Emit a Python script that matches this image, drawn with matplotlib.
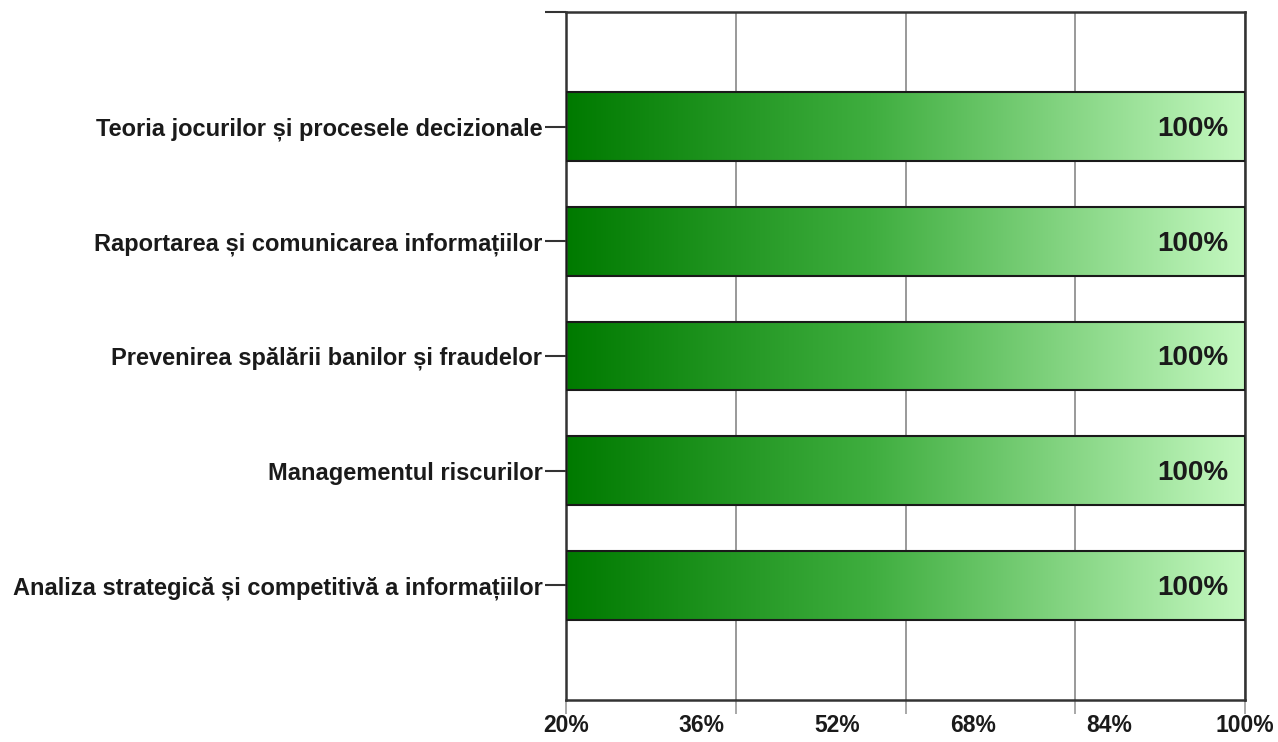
import matplotlib.pyplot as plt
import numpy as np
from matplotlib.colors import LinearSegmentedColormap

categories = [
    "Analiza strategică și competitivă a informațiilor",
    "Managementul riscurilor",
    "Prevenirea spălării banilor și fraudelor",
    "Raportarea și comunicarea informațiilor",
    "Teoria jocurilor și procesele decizionale",
]
values = [100, 100, 100, 100, 100]
tick_labels = [20, 36, 52, 68, 84, 100]
grid_ticks = [20, 40, 60, 80, 100]

plt.rcParams['font.family'] = ['Liberation Sans', 'DejaVu Sans']
plt.rcParams['font.weight'] = 'bold'

fig = plt.figure(figsize=(12.78, 7.42), dpi=100)
ax = fig.add_axes([566 / 1278, 42 / 742, 679 / 1278, 688 / 742])

cmap = LinearSegmentedColormap.from_list(
    "g", [(0.0, "#007a00"), (0.45, "#3fae3f"), (1.0, "#c4f8c0")])
grad = np.linspace(0, 1, 256).reshape(1, -1)

ypos = np.arange(len(categories))
bars = ax.barh(ypos, [v - 20 for v in values], left=20, height=0.6,
               color="none", edgecolor="#1a1a1a", linewidth=1.5, zorder=3)
for b, v in zip(bars, values):
    x0, y0 = b.get_x(), b.get_y()
    im = ax.imshow(grad, extent=[x0, x0 + b.get_width(), y0, y0 + b.get_height()],
                   cmap=cmap, aspect="auto", zorder=2)
    im.set_clip_path(b)
    ax.text(x0 + b.get_width() - 1.9, y0 + b.get_height() / 2 - 0.02, f"{v}%",
            ha="right", va="center", fontsize=20, fontweight="bold",
            color="#1a1a1a", zorder=4)

ax.set_xlim(20, 100)
ax.set_ylim(-1, 5)

# gridlines/ticks at quarters, labels at fifths (as in the original)
ax.xaxis.remove_overlapping_locs = False
ax.set_xticks(grid_ticks)
ax.set_xticklabels([])
ax.set_xticks(tick_labels, minor=True)
ax.set_xticklabels([f"{t}%" for t in tick_labels], minor=True, fontsize=16.5,
                   fontweight="bold", color="#1a1a1a")
ax.tick_params(axis="x", which="major", length=10, width=1.2, color="#999999")
ax.tick_params(axis="x", which="minor", length=0, pad=10)

ax.set_yticks(ypos)
ax.set_yticklabels(categories, fontsize=17, fontweight="bold", color="#1a1a1a")
ax.set_yticks([5], minor=True)
ax.tick_params(axis="y", which="both", length=15, width=1.5, color="#333333", pad=2)

ax.grid(axis="x", which="major", color="#888888", linewidth=1.2, zorder=1)
ax.set_axisbelow(True)
for s in ax.spines.values():
    s.set_color("#333333")
    s.set_linewidth(1.8)

fig.savefig("out.png", dpi=100)
